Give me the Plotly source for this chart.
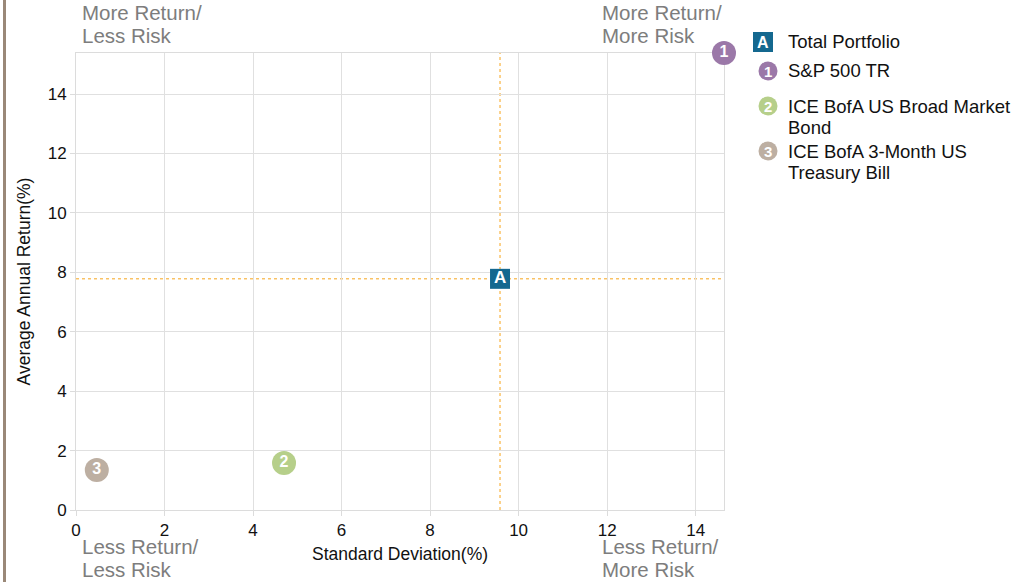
import plotly.graph_objects as go

# ---------------- data ----------------
series_names = [["Total Portfolio"], ["S&P 500 TR"],
                ["ICE BofA US Broad Market", "Bond"],
                ["ICE BofA 3-Month US", "Treasury Bill"]]
series_labels = ["A", "1", "2", "3"]
std_dev = [9.58, 14.64, 4.70, 0.47]        # Standard Deviation (%)
avg_return = [7.78, 15.38, 1.58, 1.35]     # Average Annual Return (%)
series_colors = ["#14688f", "#9b78a8", "#b6cf8a", "#bdafa2"]
series_symbols = ["square", "circle", "circle", "circle"]

x_ticks = [0, 2, 4, 6, 8, 10, 12, 14]
y_ticks = [0, 2, 4, 6, 8, 10, 12, 14]
quadrant_text = [["More Return/", "Less Risk"], ["More Return/", "More Risk"],
                 ["Less Return/", "Less Risk"], ["Less Return/", "More Risk"]]

FONT = "Liberation Sans, Arial, sans-serif"
W, H = 1024, 582
L, R, T, B = 76, 300, 53, 72
PW, PH = W - L - R, H - T - B

fig = go.Figure()

# reference lines through the total portfolio
fig.add_shape(type="line", xref="x", yref="paper", x0=std_dev[0], x1=std_dev[0], y0=0, y1=1,
              line=dict(color="#f7a41a", width=1, dash="dot"), layer="between")
fig.add_shape(type="line", xref="paper", yref="y", x0=0, x1=1, y0=avg_return[0], y1=avg_return[0],
              line=dict(color="#f7a41a", width=1, dash="dot"), layer="between")

# points (benchmarks first, portfolio on top)
for i in [1, 2, 3, 0]:
    is_sq = series_symbols[i] == "square"
    fig.add_trace(go.Scatter(
        x=[std_dev[i]], y=[avg_return[i]], mode="markers+text",
        text=["<b>%s</b>" % series_labels[i]], textposition="middle center",
        textfont=dict(family=FONT, size=17 if is_sq else 16, color="white"),
        marker=dict(symbol=series_symbols[i], size=20 if is_sq else 24,
                    color=series_colors[i], line=dict(width=0)),
        cliponaxis=False, showlegend=False, hoverinfo="skip"))

# ---------------- custom legend (pixel -> paper helpers) ----------------
def px(xp):
    return (xp - L) / PW

def py(yp):
    return (H - B - yp) / PH

legend_rows = [42, 71, 106, 151]
for i, yrow in enumerate(legend_rows):
    is_sq = series_symbols[i] == "square"
    cx = 763 if is_sq else 768
    if is_sq:
        fig.add_shape(type="rect", xref="paper", yref="paper",
                      x0=px(cx - 10), x1=px(cx + 10), y0=py(yrow + 10), y1=py(yrow - 10),
                      fillcolor=series_colors[i], line=dict(width=0))
    else:
        r = 9.5
        fig.add_shape(type="circle", xref="paper", yref="paper",
                      x0=px(cx - r), x1=px(cx + r), y0=py(yrow + r), y1=py(yrow - r),
                      fillcolor=series_colors[i], line=dict(width=0))
    fig.add_annotation(xref="paper", yref="paper", x=px(cx), y=py(yrow + 0.5),
                       text="<b>%s</b>" % series_labels[i], showarrow=False,
                       font=dict(family=FONT, size=16 if is_sq else 15, color="white"),
                       xanchor="center", yanchor="middle")
    for j, line in enumerate(series_names[i]):
        fig.add_annotation(xref="paper", yref="paper", x=px(786), y=py(yrow + 21 * j),
                           text=line, showarrow=False, align="left",
                           font=dict(family=FONT, size=18.5, color="#111111"),
                           xanchor="left", yanchor="middle")

# ---------------- quadrant labels ----------------
quad_pos = [(80, 12), (600, 12), (80, 546), (600, 546)]
for lines, (qx, qy) in zip(quadrant_text, quad_pos):
    for j, line in enumerate(lines):
        fig.add_annotation(xref="paper", yref="paper", x=px(qx), y=py(qy + 23.5 * j),
                           text=line, showarrow=False, align="left",
                           font=dict(family=FONT, size=20.5, color="#7d7d7d"),
                           xanchor="left", yanchor="middle")

# left brown border
fig.add_shape(type="line", xref="paper", yref="paper", x0=px(4.5), x1=px(4.5), y0=py(0), y1=py(H),
              line=dict(color="#9a8878", width=3))

fig.update_xaxes(range=[0, std_dev[1]], tickvals=x_ticks, ticktext=[str(v) for v in x_ticks],
                 showgrid=True, gridcolor="#e0e0e0", gridwidth=1, zeroline=False,
                 showline=True, linecolor="#dcdcdc", mirror=True, layer="below traces",
                 ticks="outside", ticklen=5, tickcolor="#dcdcdc",
                 tickfont=dict(family=FONT, size=17, color="#111111"),
                 title=dict(text="Standard Deviation(%)", standoff=8,
                            font=dict(family=FONT, size=17.5, color="#111111")))
fig.update_yaxes(range=[0, avg_return[1]], tickvals=y_ticks, ticktext=[str(v) for v in y_ticks],
                 showgrid=True, gridcolor="#e0e0e0", gridwidth=1, zeroline=False,
                 showline=True, linecolor="#dcdcdc", mirror=True, layer="below traces",
                 ticks="outside", ticklen=5, tickcolor="#dcdcdc",
                 tickfont=dict(family=FONT, size=17, color="#111111"),
                 title=dict(text="Average Annual Return(%)", standoff=12,
                            font=dict(family=FONT, size=17.5, color="#111111")))

fig.update_layout(width=W, height=H, margin=dict(l=L, r=R, t=T, b=B),
                  paper_bgcolor="white", plot_bgcolor="white",
                  font=dict(family=FONT), showlegend=False)

fig.write_html("out.html", config={"displayModeBar": False},
               post_script="document.body.style.margin='0';")
